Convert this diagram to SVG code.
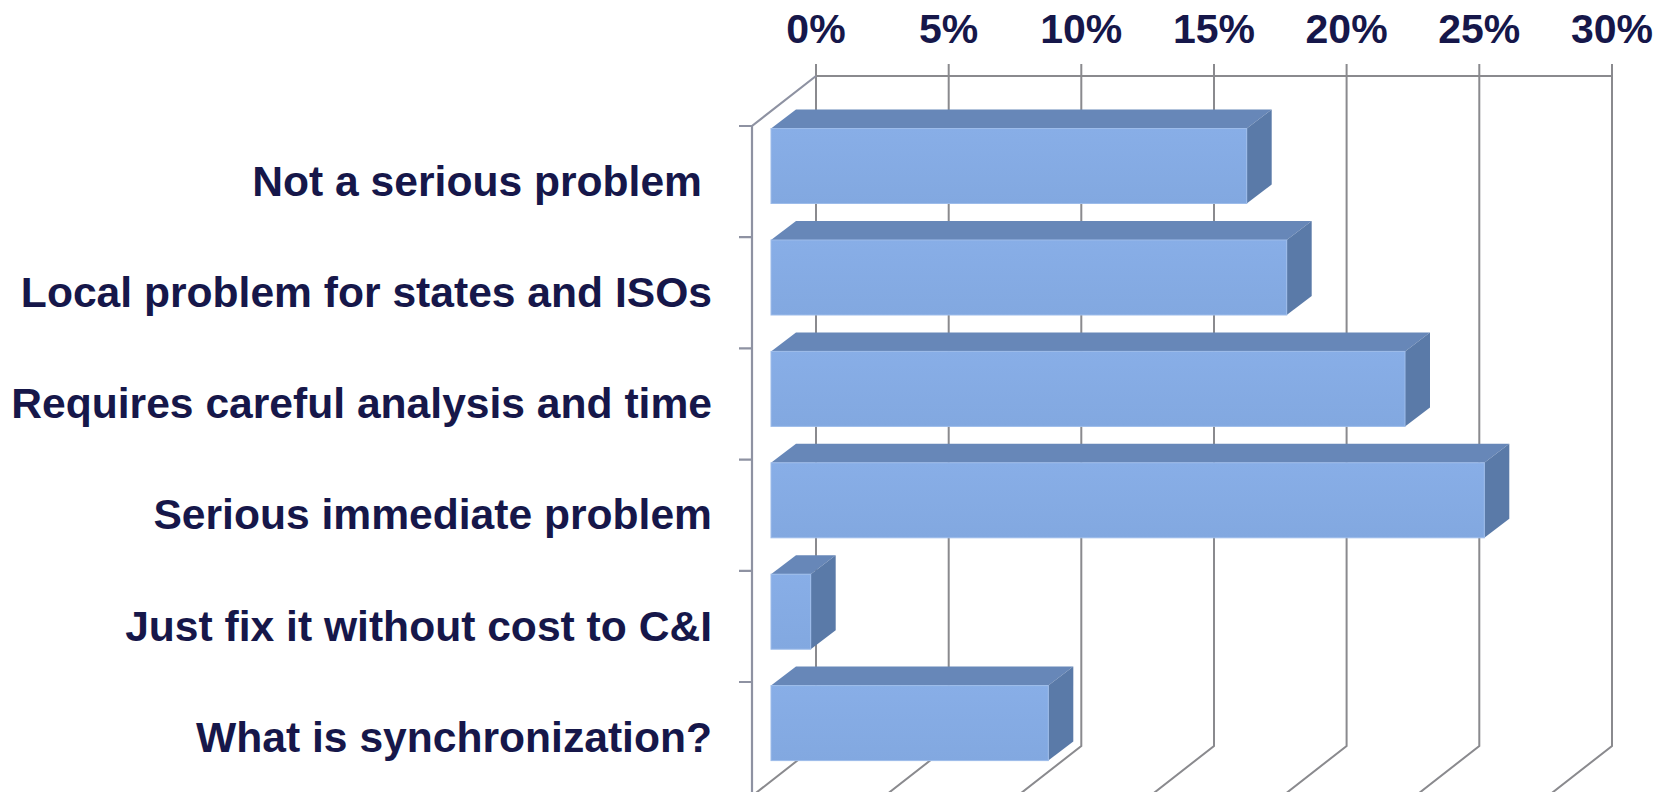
<svg xmlns="http://www.w3.org/2000/svg" width="1669" height="792" viewBox="0 0 1669 792">
<style>
.t{font-family:"Liberation Sans",Arial,sans-serif;font-weight:bold;fill:#16174a}
.lab{font-size:42.6px;text-anchor:end}
.ax{font-size:41px;text-anchor:middle}
.g{stroke:#8a8a8e;stroke-width:2;fill:none}
.a{stroke:#8e92a2;stroke-width:2.2;fill:none}
.fr{fill:url(#fg);stroke:#9dbcea;stroke-width:1}
.tp{fill:#6787b8}
.sd{fill:#5a7aa8}
</style>
<defs>
<linearGradient id="fg" x1="0" y1="0" x2="0" y2="1">
<stop offset="0" stop-color="#88aee7"/>
<stop offset="1" stop-color="#82a8e0"/>
</linearGradient>
</defs>
<rect width="1669" height="792" fill="#ffffff"/>
<g id="axis-labels" class="t ax">
<text x="816" y="43">0%</text>
<text x="948.7" y="43">5%</text>
<text x="1081.3" y="43">10%</text>
<text x="1214" y="43">15%</text>
<text x="1346.6" y="43">20%</text>
<text x="1479.3" y="43">25%</text>
<text x="1612" y="43">30%</text>
</g>
<g id="grid">
<path class="g" d="M816,64V746L752,796M948.7,64V746L884.7,796M1081.3,64V746L1017.3,796M1214,64V746L1150,796M1346.6,64V746L1282.6,796M1479.3,64V746L1415.3,796M1612,64V746L1548,796"/>
<path class="g" d="M816,76H1612"/>
<path class="a" d="M816,76L752,126V796"/>
<path class="a" d="M739,126H752M739,237.2H752M739,348.4H752M739,459.6H752M739,570.8H752M739,682H752"/>
</g>
<g id="bar-not-serious">
<polygon class="tp" points="771,128.5 796,109.5 1271.7,109.5 1246.7,128.5"/>
<polygon class="sd" points="1246.7,128.5 1271.7,109.5 1271.7,184.5 1246.7,203.5"/>
<rect class="fr" x="771" y="128.5" width="475.7" height="75"/>
</g>
<g id="bar-local">
<polygon class="tp" points="771,240 796,221 1311.7,221 1286.7,240"/>
<polygon class="sd" points="1286.7,240 1311.7,221 1311.7,296 1286.7,315"/>
<rect class="fr" x="771" y="240" width="515.7" height="75"/>
</g>
<g id="bar-requires">
<polygon class="tp" points="771,351.4 796,332.4 1430,332.4 1405,351.4"/>
<polygon class="sd" points="1405,351.4 1430,332.4 1430,407.4 1405,426.4"/>
<rect class="fr" x="771" y="351.4" width="634" height="75"/>
</g>
<g id="bar-serious">
<polygon class="tp" points="771,462.8 796,443.8 1509.3,443.8 1484.3,462.8"/>
<polygon class="sd" points="1484.3,462.8 1509.3,443.8 1509.3,518.8 1484.3,537.8"/>
<rect class="fr" x="771" y="462.8" width="713.3" height="75"/>
</g>
<g id="bar-just-fix">
<polygon class="tp" points="771,574.2 796,555.2 835.7,555.2 810.7,574.2"/>
<polygon class="sd" points="810.7,574.2 835.7,555.2 835.7,630.2 810.7,649.2"/>
<rect class="fr" x="771" y="574.2" width="39.7" height="75"/>
</g>
<g id="bar-what-is">
<polygon class="tp" points="771,685.6 796,666.6 1073.3,666.6 1048.3,685.6"/>
<polygon class="sd" points="1048.3,685.6 1073.3,666.6 1073.3,741.6 1048.3,760.6"/>
<rect class="fr" x="771" y="685.6" width="277.3" height="75"/>
</g>
<g id="label-not-serious"><text class="t lab" x="702" y="195.5">Not a serious problem</text></g>
<g id="label-local"><text class="t lab" x="712" y="306.5">Local problem for states and ISOs</text></g>
<g id="label-requires"><text class="t lab" x="712" y="418">Requires careful analysis and time</text></g>
<g id="label-serious"><text class="t lab" x="712" y="529">Serious immediate problem</text></g>
<g id="label-just-fix"><text class="t lab" x="712" y="640.5">Just fix it without cost to C&amp;I</text></g>
<g id="label-what-is"><text class="t lab" x="712" y="752">What is synchronization?</text></g>
</svg>
